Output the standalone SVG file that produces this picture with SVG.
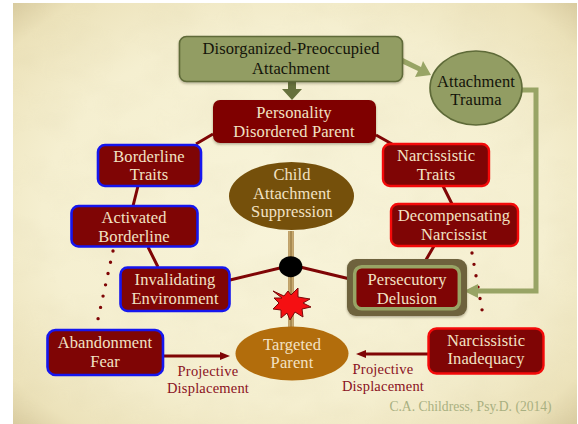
<svg xmlns="http://www.w3.org/2000/svg" width="578" height="424" viewBox="0 0 578 424">
<style>
text{font-family:"Liberation Serif","Noto Serif",serif;text-anchor:middle}
.n{fill:#7f0505}
.t{font-size:16.5px;fill:#f2e2c4;letter-spacing:.1px}
.k{font-size:16.5px;fill:#14140a;letter-spacing:.1px}
.p{font-size:14.5px;fill:#8a1122;letter-spacing:.2px}
.b{stroke:#1616ee;stroke-width:2.6}
.r{stroke:#f40a0a;stroke-width:2.4}
.g{fill:#929d63;stroke:#5e6a38;stroke-width:1.6}
.c{fill:none;stroke:#7f0505;stroke-width:3}
.d{fill:none;stroke:#7f0505;stroke-width:3.4;stroke-linecap:round;stroke-dasharray:0 11.55}
</style>
<defs>
<radialGradient id="bg" cx="50%" cy="50%" r="72%">
<stop offset="0" stop-color="#f8f4da"/><stop offset=".62" stop-color="#f5efd0"/><stop offset=".88" stop-color="#ece2ba"/><stop offset="1" stop-color="#d6c89c"/>
</radialGradient>
<filter id="s" x="-10%" y="-10%" width="120%" height="125%"><feDropShadow dx="0" dy="1.5" stdDeviation="1.2" flood-color="#3a3520" flood-opacity=".35"/></filter>
<filter id="tx" x="0" y="0" width="100%" height="100%"><feTurbulence type="fractalNoise" baseFrequency=".02 .03" numOctaves="3" seed="4"/><feColorMatrix values="0 0 0 0 .55 0 0 0 0 .47 0 0 0 0 .25 .9 0 0 0 -.33"/></filter>
</defs>
<rect width="578" height="424" fill="#fff"/>
<rect x="13" y="3" width="564" height="421" fill="url(#bg)"/>
<rect x="13" y="3" width="564" height="421" filter="url(#tx)" opacity=".14"/>
<g id="connectors">
<path class="c" d="M213 134L196 144M376 135L392 144M138 186L133 206M443 186L452 204M148 247L158 267M434 246L423 265M230 280L280 268M300 267L350 279"/>
<path class="d" d="M113 251L98 319M472 253L484 321"/>
<path d="M291 231V258M291 276V328" fill="none" stroke="#ad8748" stroke-width="5.500"/>
<path d="M291 231V258M291 276V328" fill="none" stroke="#e2cb94" stroke-width="3"/>
<path d="M291 231V258M291 276V328" fill="none" stroke="#6e4a10" stroke-width="1"/>
<path d="M288 81H296V89H302L292 100L282 89H288Z" fill="#66713c"/>
<path d="M403 58L421 67L423 61L431 75L415 77L418 71L401 63Z" fill="#98a465"/>
<path d="M522 90H536V291H478" fill="none" stroke="#98a465" stroke-width="5"/>
<path d="M464 291L478 284V298Z" fill="#98a465"/>
<path d="M163 356H222" fill="none" stroke="#7f0505" stroke-width="3"/><path d="M230 356L220 352V360Z" fill="#7f0505"/>
<path d="M428 354H365" fill="none" stroke="#7f0505" stroke-width="3"/><path d="M356 354L366 350V358Z" fill="#7f0505"/>
</g>
<g id="disorganized"><rect class="g" x="179.500" y="36.500" width="223" height="45" rx="7" filter="url(#s)"/><text class="k" x="291" y="54">Disorganized-Preoccupied</text><text class="k" x="291" y="74">Attachment</text></g>
<g id="trauma"><ellipse class="g" cx="476" cy="88" rx="46" ry="37" stroke-width="2"/><text class="k" x="476" y="87">Attachment</text><text class="k" x="476" y="105">Trauma</text></g>
<g id="parent"><rect class="n" x="213" y="100" width="163" height="43" rx="7" filter="url(#s)"/><text class="t" x="294" y="118">Personality</text><text class="t" x="294" y="137">Disordered Parent</text></g>
<g id="borderline-traits"><rect class="n b" x="98" y="145" width="103" height="41" rx="7"/><text class="t" x="149" y="162">Borderline</text><text class="t" x="149" y="180">Traits</text></g>
<g id="narcissistic-traits"><rect class="n r" x="383" y="144" width="106" height="42" rx="7"/><text class="t" x="436" y="161">Narcissistic</text><text class="t" x="436" y="180">Traits</text></g>
<g id="child"><ellipse cx="291.500" cy="196" rx="62.500" ry="34" fill="#75500b"/><text class="t" x="292" y="180">Child</text><text class="t" x="292" y="199">Attachment</text><text class="t" x="292" y="217">Suppression</text></g>
<g id="activated"><rect class="n b" x="71.500" y="206" width="126" height="40.500" rx="7"/><text class="t" x="134" y="223">Activated</text><text class="t" x="134" y="242">Borderline</text></g>
<g id="decompensating"><rect class="n r" x="391" y="204" width="127" height="42" rx="7"/><text class="t" x="454" y="221">Decompensating</text><text class="t" x="454" y="240">Narcissist</text></g>
<g id="invalidating"><rect class="n b" x="120.500" y="267.500" width="109" height="43.500" rx="7"/><text class="t" x="175" y="285">Invalidating</text><text class="t" x="175" y="304">Environment</text></g>
<g id="hub"><ellipse cx="290.700" cy="266.700" rx="11.700" ry="10.500"/></g>
<g id="persecutory"><rect x="347" y="259" width="120" height="57" rx="9" fill="#6e623e" filter="url(#s)"/><rect class="n" x="354.700" y="266.700" width="104.600" height="42" rx="7" stroke="#98a465" stroke-width="3.500"/><text class="t" x="407" y="285">Persecutory</text><text class="t" x="407" y="304">Delusion</text></g>
<g id="burst"><path d="M273 291L284 296L288 291L291 295L298 288L298 297L310 299L303 303L311 307L302 309L303 317L295 312L290 320L287 313L281 318L281 310L273 309L279 303L274 298L282 298Z" fill="#f50f12" stroke="#7a0808" stroke-width="1"/></g>
<g id="abandonment"><rect class="n b" x="47.500" y="330" width="115.500" height="45" rx="8"/><text class="t" x="105" y="348">Abandonment</text><text class="t" x="105" y="367">Fear</text></g>
<g id="targeted"><ellipse cx="292" cy="353.500" rx="56.500" ry="27" fill="#b26d0c"/><text class="t" x="292" y="350">Targeted</text><text class="t" x="292" y="368">Parent</text></g>
<g id="inadequacy"><rect class="n r" x="428.500" y="328.500" width="115" height="45" rx="8"/><text class="t" x="486" y="346">Narcissistic</text><text class="t" x="486" y="364">Inadequacy</text></g>
<g id="labels"><text class="p" x="208" y="376">Projective</text><text class="p" x="208" y="393">Displacement</text><text class="p" x="383" y="374">Projective</text><text class="p" x="383" y="391">Displacement</text><text x="470.500" y="411" font-size="13.600" fill="#a9b081">C.A. Childress, Psy.D. (2014)</text></g>
</svg>
